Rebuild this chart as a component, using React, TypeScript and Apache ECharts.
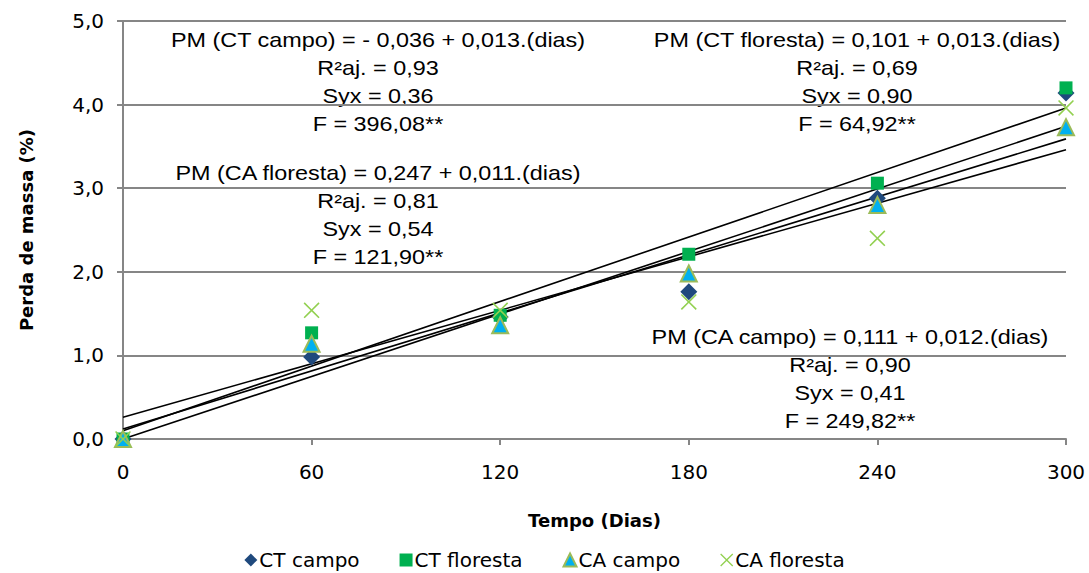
import React, { useEffect, useRef } from "react";
import * as echarts from "echarts";

const dias = [0, 60, 120, 180, 240, 300];
const ctCampo = [0.0, 0.98, 1.46, 1.76, 2.88, 4.14];
const ctFloresta = [0.0, 1.27, 1.48, 2.21, 3.06, 4.2];
const caCampo = [0.0, 1.14, 1.36, 1.98, 2.8, 3.73];
const caFloresta = [0.0, 1.54, 1.54, 1.64, 2.4, 3.96];

// regression line endpoints [x0, y0, x1, y1]
const lineCtCampo = [0, 0.0, 300, 3.74];
const lineCtFloresta = [0, 0.1, 300, 3.96];
const lineCaCampo = [0, 0.12, 300, 3.59];
const lineCaFloresta = [0, 0.26, 300, 3.46];

const xTicks = { min: 0, max: 300, interval: 60 };
const yTicks = { min: 0, max: 5, interval: 1 };

const eqCtCampo = ["PM (CT campo) = - 0,036 + 0,013.(dias)", "R²aj. = 0,93", "Syx = 0,36", "F = 396,08**"];
const eqCtFloresta = ["PM (CT floresta) = 0,101 + 0,013.(dias)", "R²aj. = 0,69", "Syx = 0,90", "F = 64,92**"];
const eqCaFloresta = ["PM (CA floresta) = 0,247 + 0,011.(dias)", "R²aj. = 0,81", "Syx = 0,54", "F = 121,90**"];
const eqCaCampo = ["PM (CA campo) = 0,111 + 0,012.(dias)", "R²aj. = 0,90", "Syx = 0,41", "F = 249,82**"];

const FONT = "Liberation Sans, Arial, sans-serif";
const WIDE = "DejaVu Sans, Liberation Sans, sans-serif";
const X_SYMBOL =
  "path://M0,0.7 L0.7,0 L5,4.3 L9.3,0 L10,0.7 L5.7,5 L10,9.3 L9.3,10 L5,5.7 L0.7,10 L0,9.3 L4.3,5 Z";

function pts(ys: number[]) {
  return dias.map((d, i) => [d, ys[i]]);
}

function block(lines: string[], cx: number, y0: number) {
  return lines.map((t, i) => ({
    type: "text",
    x: cx,
    y: y0 + i * 28,
    scaleX: 1.17,
    style: {
      text: t,
      fill: "#000",
      font: `20px ${FONT}`,
      textAlign: "center",
      textVerticalAlign: "middle",
    },
  }));
}

function regLine(name: string, l: number[]) {
  return {
    name,
    type: "line",
    data: [
      [l[0], l[1]],
      [l[2], l[3]],
    ],
    showSymbol: false,
    symbol: "none",
    lineStyle: { color: "#000", width: 1.6 },
    z: 1,
    silent: true,
  };
}

export default function App() {
  const ref = useRef<HTMLDivElement>(null);
  useEffect(() => {
    const chart = echarts.init(ref.current!, undefined, { renderer: "svg" });
    chart.setOption({
      animation: false,
      backgroundColor: "#fff",
      textStyle: { fontFamily: FONT },
      grid: { left: 123, right: 23, top: 21, bottom: 134, containLabel: false },
      legend: {
        data: [
          { name: "CT campo", icon: "diamond" },
          { name: "CT floresta", icon: "rect" },
          { name: "CA campo", icon: "triangle" },
          { name: "CA floresta", icon: X_SYMBOL },
        ],
        top: 550,
        left: "center",
        padding: 0,
        itemWidth: 13,
        itemHeight: 13,
        itemGap: 40,
        textStyle: {
          fontSize: 20,
          lineHeight: 20,
          color: "#000",
          fontFamily: WIDE,
          padding: [0, 0, 0, -3],
        },
      },
      xAxis: {
        type: "value",
        min: xTicks.min,
        max: xTicks.max,
        interval: xTicks.interval,
        name: "Tempo (Dias)",
        nameLocation: "middle",
        nameGap: 72,
        nameTextStyle: { fontSize: 18, fontWeight: "bold", color: "#000", fontFamily: WIDE },
        axisLine: { show: true, onZero: false, lineStyle: { color: "#868686", width: 2 } },
        axisTick: { show: true, length: 6, lineStyle: { color: "#868686", width: 2 } },
        axisLabel: { fontSize: 20, color: "#000", margin: 23, fontFamily: WIDE },
        splitLine: { show: false },
      },
      yAxis: {
        type: "value",
        min: yTicks.min,
        max: yTicks.max,
        interval: yTicks.interval,
        name: "Perda de massa (%)",
        nameLocation: "middle",
        nameGap: 88,
        nameTextStyle: { fontSize: 18, fontWeight: "bold", color: "#000", fontFamily: WIDE },
        axisLine: { show: true, lineStyle: { color: "#868686", width: 2 } },
        axisTick: { show: true, length: 6, lineStyle: { color: "#868686", width: 2 } },
        axisLabel: {
          fontSize: 20,
          color: "#000",
          margin: 19,
          fontFamily: WIDE,
          formatter: (v: number) => v.toFixed(1).replace(".", ","),
        },
        splitLine: { show: true, lineStyle: { color: "#868686", width: 2 } },
      },
      series: [
        regLine("l1", lineCtCampo),
        regLine("l2", lineCtFloresta),
        regLine("l3", lineCaCampo),
        regLine("l4", lineCaFloresta),
        {
          name: "CT campo",
          type: "scatter",
          data: pts(ctCampo),
          symbol: "diamond",
          symbolSize: 17,
          itemStyle: { color: "#1f497d", opacity: 1 },
          z: 3,
        },
        {
          name: "CT floresta",
          type: "scatter",
          data: pts(ctFloresta),
          symbol: "rect",
          symbolSize: 13,
          itemStyle: { color: "#00b050", opacity: 1 },
          z: 3,
        },
        {
          name: "CA campo",
          type: "scatter",
          data: pts(caCampo),
          symbol: "triangle",
          symbolSize: 16,
          itemStyle: { color: "#00b0f0", borderColor: "#9bbb59", borderWidth: 2, opacity: 1 },
          z: 3,
        },
        {
          name: "CA floresta",
          type: "scatter",
          data: pts(caFloresta),
          symbol: X_SYMBOL,
          symbolSize: 16,
          itemStyle: { color: "#92d050", opacity: 1 },
          z: 3,
        },
      ],
      graphic: [
        ...block(eqCtCampo, 378, 40),
        ...block(eqCtFloresta, 857, 40),
        ...block(eqCaFloresta, 378, 173),
        ...block(eqCaCampo, 850, 337),
      ],
    });
    return () => chart.dispose();
  }, []);
  return (
    <div
      ref={ref}
      style={{ position: "absolute", left: 0, top: 0, width: 1089, height: 573 }}
    />
  );
}
